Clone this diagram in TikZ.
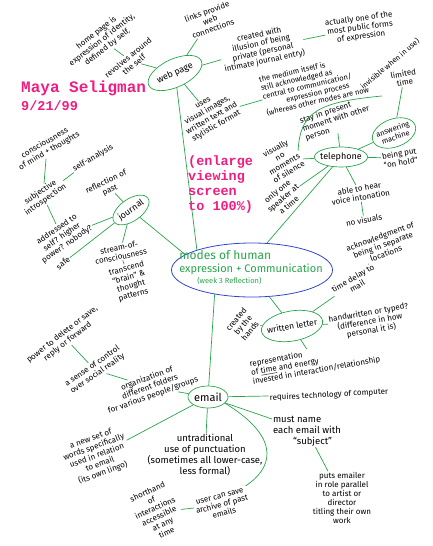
\documentclass[tikz,border=0pt]{standalone}
\usepackage{fontspec}
\usepackage{tikz}
\usetikzlibrary{shapes}
\usetikzlibrary{calc}
\newfontfamily\hand{Fira Sans}
\newfontfamily\typew{Liberation Mono}
\definecolor{inkgreen}{RGB}{40,165,75}
\definecolor{ringblue}{RGB}{50,70,200}
\definecolor{hotpink}{RGB}{240,30,130}

\begin{document}
\begin{tikzpicture}[x=1pt, y=-1pt,
    note/.style={font=\hand\fontsize{8}{9}\selectfont, align=center, inner sep=1pt},
    bignote/.style={note, font=\hand\fontsize{9.5}{11}\selectfont},
    bubble/.style={draw=inkgreen, ellipse, align=center, inner sep=0pt, line width=0.7pt,
                   font=\hand\fontsize{9}{10}\selectfont},
    branch/.style={draw=inkgreen, line width=0.7pt},
    pink/.style={text=hotpink, inner sep=0pt, align=left}]
				\useasboundingbox (0,0) rectangle (432,546);

				% name and note
				\node[pink, anchor=west, font=\typew\bfseries\fontsize{16}{16}\selectfont] (author) at (21,88) {Maya Seligman};
				\node[pink, anchor=west, font=\typew\bfseries\fontsize{13.5}{14}\selectfont] (date) at (21,106) {9/21/99};
				\node[pink, anchor=north west, font=\typew\bfseries\fontsize{13.5}{15}\selectfont] (zoomnote) at (188,156) {(enlarge\\viewing\\screen\\to 100\%)};

				% centre
				\node[draw=ringblue, ellipse, line width=0.8pt, minimum width=161pt, minimum height=54pt] (hub) at (252,270) {};
				\node[text=inkgreen, align=left, font=\hand\fontsize{11}{13}\selectfont] (hubtext) at (251,268) {{\fontsize{12}{13}\selectfont modes of human}\\expression + Communication\\[-2pt]\hspace*{18pt}{\fontsize{7.5}{9}\selectfont(week 3 Reflection)}};

				% web page
				\node[bubble, rotate=25, minimum width=58pt, minimum height=28pt] (webpage) at (175,73) {web page};
				\node[note, rotate=38] (homepage) at (102,40) {home page is\\expression of identity,\\defined by self.};
				\node[note, rotate=40] (revolves) at (131,61) {revolves around\\the self};
				\node[note, rotate=20] (links) at (210,20) {links provide\\web\\connections};
				\node[note, rotate=12] (illusion) at (262,48) {created with\\illusion of being\\private (personal\\intimate journal entry)};
				\node[note, rotate=8] (public) at (360,28) {actually one of the\\most public forms\\of expression};
				\node[note, rotate=30] (visuals) at (210,115) {uses\\visual images,\\written text and\\stylistic format};
				\node[note, rotate=13, align=left, font=\hand\fontsize{7.5}{8.5}\selectfont] (medium) at (314,85) {the medium itself is\\still acknowledged as\\central to communication/\\\hspace*{22pt}expression process\\(whereas other modes are now};
				\node[note, rotate=40, font=\hand\fontsize{7.5}{8.5}\selectfont] (invisible) at (390,64) {invisible when in use)};

				\draw[branch] (webpage) -- (revolves);
				\draw[branch] (revolves) -- (homepage);
				\draw[branch] (webpage) -- (links);
				\draw[branch] (webpage) -- (illusion);
				\draw[branch] (illusion) -- (public);
				\draw[branch] (webpage) -- (visuals);
				\draw[branch] (visuals) -- (medium);
				\draw[branch] (webpage) -- (hub.160);

				% telephone
				\node[bubble, minimum width=52pt, minimum height=20pt, inner xsep=-2pt] (telephone) at (341,157) {telephone};
				\node[note, rotate=18, align=left] (present) at (336,119) {stay in present\\moment with other\\person};
				\node[note, rotate=10] (limited) at (404,78) {limited\\time};
				\node[bubble, rotate=20, minimum width=45pt, minimum height=28pt, inner xsep=-3pt, font=\hand\fontsize{7.5}{8.5}\selectfont] (answering) at (394,133) {answering\\machine};
				\node[note, rotate=10] (onhold) at (400,158) {being put\\“on hold”};
				\node[note, rotate=30] (silence) at (282,160) {visually\\no\\moments\\of silence};
				\node[note, rotate=40] (speaker) at (283,198) {only one\\speaker at\\a time};
				\node[note, rotate=10] (intonation) at (360,193) {able to hear\\voice intonation};
				\node[note, rotate=10] (novisuals) at (364,220) {no visuals};
				\coordinate (underline) at (382,96);

				\draw[branch] (telephone) -- (present);
				\draw[branch] (silence.east) .. controls (300,112) and (318,102) .. (underline);
				\draw[branch] (limited) -- (answering);
				\draw[branch] (answering) -- (telephone);
				\draw[branch] (telephone) -- (onhold);
				\draw[branch] (silence) -- (telephone);
				\draw[branch] (speaker) -- (telephone);
				\draw[branch] (telephone) -- (intonation);
				\draw[branch] (intonation) -- (novisuals);
				\draw[branch] (telephone) -- (hub.61);

				% journal
				\node[bubble, rotate=35, minimum width=38pt, minimum height=22pt] (journal) at (131,210) {journal};
				\node[note, rotate=25] (pastref) at (108,186) {reflection of\\past};
				\node[note, rotate=30] (selfanalysis) at (93,158) {self-analysis};
				\node[note, rotate=35] (introspection) at (43,196) {subjective\\introspection};
				\node[note, rotate=30] (mindthoughts) at (47,147) {consciousness\\of mind + thoughts};
				\node[note, rotate=35] (addressed) at (62,237) {addressed to\\self? higher\\power? nobody?};
				\node[note, rotate=40] (safe) at (63,263) {safe};
				\node[note, rotate=12] (stream) at (120,252) {stream-of-\\consciousness};
				\node[note, rotate=15] (transcend) at (130,282) {transcend\\“brain” \&\\thought\\patterns};

				\draw[branch] (journal) -- (pastref);
				\draw[branch] (introspection) -- (selfanalysis);
				\draw[branch] (mindthoughts) -- (introspection);
				\draw[branch] (introspection) -- (addressed);
				\draw[branch] (journal) -- (addressed);
				\draw[branch] (safe) -- (journal);
				\draw[branch] (journal) -- (stream);
				\draw[branch] (stream) -- (transcend);
				\draw[branch] (journal) -- (hub.167);

				% written letter
				\node[bubble, rotate=10, minimum width=62pt, minimum height=30pt, inner xsep=-5pt, font=\hand\fontsize{8.5}{10}\selectfont] (letter) at (292,326) {written letter};
				\node[note, rotate=50] (hands) at (243,325) {created\\by the\\hands};
				\node[note, rotate=30] (delay) at (355,282) {time delay to\\mail};
				\node[note, rotate=20] (separate) at (383,245) {acknowledgment of\\being in separate\\locations};
				\node[note, rotate=10] (typed) at (370,322) {handwritten or typed?\\(difference in how\\personal it is)};
				\node[note, rotate=10, align=left] (energy) at (315,362) {representation\\of \underline{time} and energy\\invested in interaction/relationship};

				\draw[branch] (hub.303) -- (letter);
				\draw[branch] (letter) -- (hands);
				\draw[branch] (letter) -- (delay);
				\draw[branch] (delay) -- (separate);
				\draw[branch] (letter) -- (typed);
				\draw[branch] (letter) -- (energy);

				% email
				\node[bubble, minimum width=40pt, minimum height=22pt, font=\hand\fontsize{11}{12}\selectfont] (email) at (208,397) {email};
				\node[note, rotate=20] (folders) at (150,387) {organization of\\different folders\\for various people/groups};
				\node[note, rotate=35] (control) at (95,370) {a sense of control\\over social reality};
				\node[note, rotate=38] (delete) at (65,338) {power to delete or save,\\reply or forward};
				\node[note, rotate=3] (computer) at (329,395) {requires technology of computer};
				\node[bignote, align=left] (subject) at (307,431) {must name\\each email with\\\hspace*{20pt}“subject”};
				\node[note] (titling) at (342,498) {puts emailer\\in role parallel\\to artist or\\director\\titling their own\\work};
				\node[note, rotate=15] (archive) at (222,505) {user can save\\archive of past\\emails};
				\node[bignote] (punctuation) at (205,455) {untraditional\\use of punctuation\\(sometimes all lower-case,\\less formal)};
				\node[note, rotate=20] (lingo) at (97,456) {a new set of\\words specifically\\used in relation\\to email\\(its own lingo)};
				\node[note, rotate=25] (shorthand) at (157,512) {shorthand\\of\\interactions\\accessible\\at any\\time};

				\draw[branch] (hub.213) -- (email);
				\draw[branch] (folders) -- (email);
				\draw[branch] (control) -- (folders);
				\draw[branch] (delete) -- (control);
				\draw[branch] (email) -- (computer);
				\draw[branch] (email) -- (subject);
				\draw[branch] (subject) -- (titling);
				\draw[branch] (email.-20) .. controls (285,440) and (270,470) .. (archive.north east);
				\draw[branch] (email) -- (punctuation);
				\draw[branch] (lingo) -- (email);
				\draw[branch] (shorthand) -- (archive);
			\end{tikzpicture}
\end{document}
